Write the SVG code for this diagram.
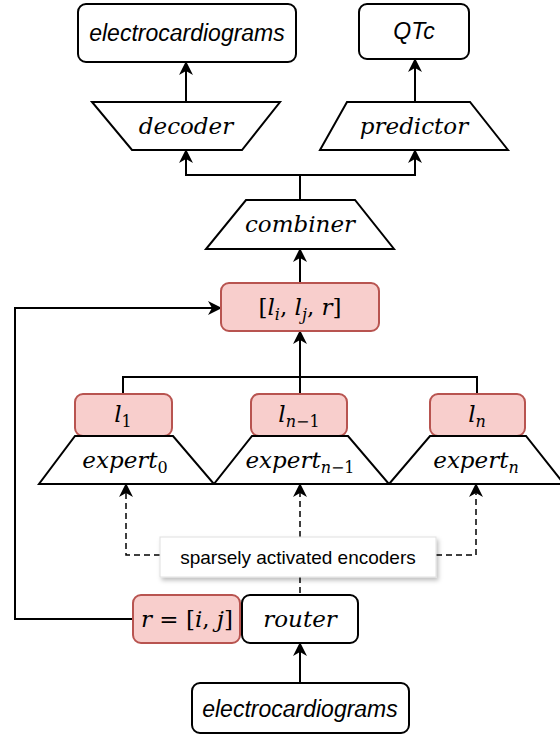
<svg xmlns="http://www.w3.org/2000/svg" width="560" height="736" viewBox="0 0 560 736">
<style>
.box{fill:#fff;stroke:#000;stroke-width:2}
.pink{fill:#f8cecc;stroke:#b85450;stroke-width:2}
.trap{fill:#fff;stroke:#000;stroke-width:2;stroke-linejoin:miter}
.sans{font-family:"Liberation Sans",Arial,sans-serif;font-style:italic;font-size:23px;text-anchor:middle;fill:#000}
.lbl{font-family:"Liberation Sans",Arial,sans-serif;font-size:19px;text-anchor:middle;fill:#000}
.math{font-family:"DejaVu Serif","Liberation Serif",serif;font-style:italic;font-size:23px;text-anchor:middle;fill:#000}
.up{font-style:normal}
.sub{font-size:16px}
.ln{fill:none;stroke:#000;stroke-width:2}
.dash{fill:none;stroke:#000;stroke-width:1.5;stroke-dasharray:6,4}
</style>
<defs>
<marker id="arr" viewBox="0 0 14 14" refX="13" refY="7" markerWidth="14" markerHeight="14" markerUnits="userSpaceOnUse" orient="auto">
<path d="M0,0 L14,7 L0,14 L4,7 z" fill="#000"/>
</marker>
<filter id="sh" x="-10%" y="-30%" width="130%" height="180%">
<feDropShadow dx="2" dy="3" stdDeviation="2" flood-color="#000" flood-opacity="0.25"/>
</filter>
</defs>

<g id="connectors">
<path class="ln" d="M186,102 L186,62" marker-end="url(#arr)"/>
<path class="ln" d="M415,102 L415,59" marker-end="url(#arr)"/>
<path class="ln" d="M300,200 L300,175 L186,175 L186,150" marker-end="url(#arr)"/>
<path class="ln" d="M300,175 L415,175 L415,150" marker-end="url(#arr)"/>
<path class="ln" d="M300,283 L300,249" marker-end="url(#arr)"/>
<path class="ln" d="M123,394 L123,377 L477,377 L477,394"/>
<path class="ln" d="M300,394 L300,331" marker-end="url(#arr)"/>
<path class="ln" d="M133,619 L15,619 L15,308 L221,308" marker-end="url(#arr)"/>
<path class="ln" d="M300,683 L300,643" marker-end="url(#arr)"/>
<path class="dash" d="M160,555 L126,555 L126,484" marker-end="url(#arr)"/>
<path class="dash" d="M300,537 L300,484" marker-end="url(#arr)"/>
<path class="dash" d="M436,555 L476,555 L476,484" marker-end="url(#arr)"/>
<path class="dash" d="M300,577 L300,595"/>
</g>

<g id="ecg-out">
<rect class="box" x="78" y="4" width="218" height="58" rx="8"/>
<text class="sans" x="187" y="41">electrocardiograms</text>
</g>
<g id="qtc">
<rect class="box" x="359" y="4" width="110" height="55" rx="8"/>
<text class="sans" x="414" y="39">QTc</text>
</g>
<g id="decoder">
<polygon class="trap" points="92,102 280,102 242,150 132,150"/>
<text class="math" x="186" y="134">decoder</text>
</g>
<g id="predictor">
<polygon class="trap" points="347,102 470,102 508,150 320,150"/>
<text class="math" x="414" y="134">predictor</text>
</g>
<g id="combiner">
<polygon class="trap" points="246,200 355,200 394,249 206,249"/>
<text class="math" x="300" y="232">combiner</text>
</g>
<g id="concat">
<rect class="pink" x="221" y="283" width="158" height="48" rx="8"/>
<text class="math" x="300" y="315"><tspan class="up">[</tspan>l<tspan class="sub" dy="5">i</tspan><tspan class="up" dy="-5">, </tspan>l<tspan class="sub" dy="5">j</tspan><tspan class="up" dy="-5">, </tspan>r<tspan class="up">]</tspan></text>
</g>
<g id="l1">
<rect class="pink" x="75" y="394" width="97" height="42" rx="8"/>
<text class="math" x="123" y="422">l<tspan class="sub up" dy="5">1</tspan></text>
</g>
<g id="ln1">
<rect class="pink" x="251" y="394" width="96" height="42" rx="8"/>
<text class="math" x="299" y="422">l<tspan class="sub" dy="5">n<tspan class="up">−1</tspan></tspan></text>
</g>
<g id="ln">
<rect class="pink" x="430" y="394" width="95" height="42" rx="8"/>
<text class="math" x="477" y="422">l<tspan class="sub" dy="5">n</tspan></text>
</g>
<g id="expert0">
<polygon class="trap" points="75,436 173,436 214,484 39,484"/>
<text class="math" x="125" y="468">expert<tspan class="sub up" dy="5">0</tspan></text>
</g>
<g id="expertn1">
<polygon class="trap" points="252,436 348,436 389,484 214,484"/>
<text class="math" x="300" y="468">expert<tspan class="sub" dy="5">n<tspan class="up">−1</tspan></tspan></text>
</g>
<g id="expertn">
<polygon class="trap" points="430,436 526,436 564,484 389,484"/>
<text class="math" x="476" y="468">expert<tspan class="sub" dy="5">n</tspan></text>
</g>
<g id="sparse-label">
<rect x="160" y="537" width="276" height="40" fill="#fff" stroke="#e0e0e0" stroke-width="1" filter="url(#sh)"/>
<text class="lbl" x="298" y="564">sparsely activated encoders</text>
</g>
<g id="rij">
<rect class="pink" x="133" y="595" width="107" height="48" rx="8"/>
<text class="math" x="187" y="627">r<tspan class="up"> = [</tspan>i<tspan class="up">, </tspan>j<tspan class="up">]</tspan></text>
</g>
<g id="router">
<rect class="box" x="242" y="595" width="116" height="48" rx="8"/>
<text class="math" x="300" y="627">router</text>
</g>
<g id="ecg-in">
<rect class="box" x="192" y="683" width="217" height="50" rx="8"/>
<text class="sans" x="300" y="717">electrocardiograms</text>
</g>
</svg>
